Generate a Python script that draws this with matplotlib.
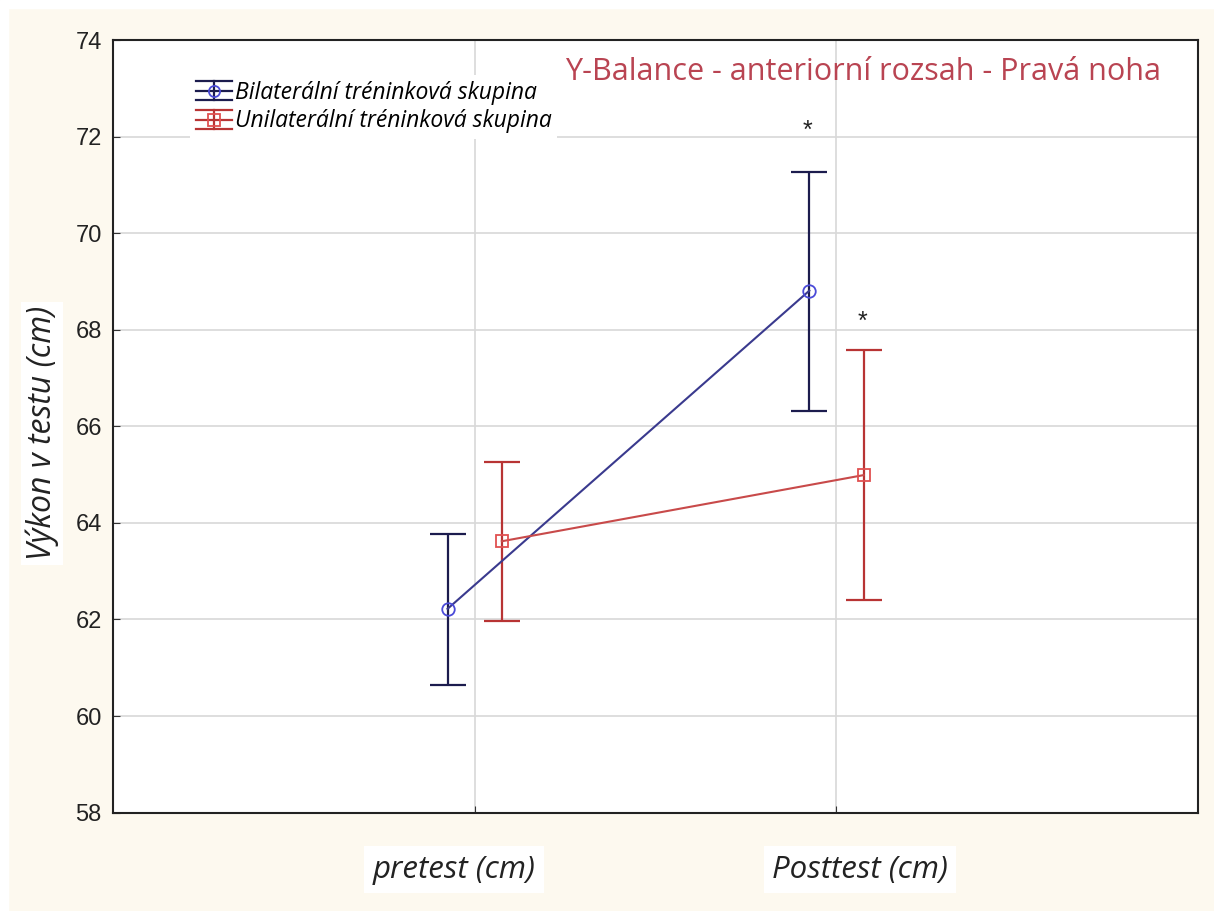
import matplotlib
matplotlib.use("Agg")
import matplotlib.pyplot as plt
from matplotlib.lines import Line2D
from matplotlib.legend_handler import HandlerBase
import numpy as np

# data
categories = ["pretest (cm)", "Posttest (cm)"]
series_names = ["Bilaterální tréninková skupina", "Unilaterální tréninková skupina"]
bilateral_mean = [62.22, 68.81]
bilateral_low = [60.64, 66.31]
bilateral_high = [63.78, 71.27]
unilateral_mean = [63.62, 64.99]
unilateral_low = [61.96, 62.41]
unilateral_high = [65.26, 67.59]
significant = [False, True]  # asterisk at posttest for both groups

title_text = "Y-Balance - anteriorní rozsah - Pravá noha"
ylabel_text = "Výkon v testu (cm)"


class ErrbarHandler(HandlerBase):
    # legend glyph: line with marker, vertical bar and two wide caps
    def create_artists(self, legend, orig, xdescent, ydescent, width, height,
                       fontsize, trans):
        col = orig.get_color()
        mcol = orig.get_markeredgecolor()
        cy = height / 2 - ydescent
        h = 0.42 * fontsize
        x0, x1 = -xdescent, width - xdescent
        xm = (x0 + x1) / 2
        arts = [
            Line2D([x0, x1], [cy, cy], color=col, lw=1.6),
            Line2D([x0, x1], [cy + h, cy + h], color=col, lw=1.6),
            Line2D([x0, x1], [cy - h, cy - h], color=col, lw=1.6),
            Line2D([xm, xm], [cy - h, cy + h], color=col, lw=1.6),
            Line2D([xm], [cy], marker=orig.get_marker(), ms=8, mfc="none",
                   mec=mcol, mew=1.3, ls="none"),
        ]
        for a in arts:
            a.set_transform(trans)
        return arts


fig = plt.figure(figsize=(12.14, 9.11), dpi=100)
fig.patch.set_facecolor("#fdf9ef")
# thin white border on top and left like the scanned picture
fig.add_artist(plt.Rectangle((0, 0), 0.007, 1, transform=fig.transFigure,
                             color="white", zorder=0))
fig.add_artist(plt.Rectangle((0, 0.991), 1, 0.009, transform=fig.transFigure,
                             color="white", zorder=0))

ax = fig.add_axes([0.093, 0.108, 0.894, 0.848])
ax.set_facecolor("white")

x = np.arange(1, len(categories) + 1)
offset = 0.075

groups = [
    (bilateral_mean, bilateral_low, bilateral_high, -offset, "#3a3a8e", "#1c1c4e", "#4a4ad8", "o", 29.5),
    (unilateral_mean, unilateral_low, unilateral_high, offset, "#c84a4a", "#b83434", "#e05050", "s", 20),
]

handles = []
for mean, low, high, dx, lcol, ecol, mcol, mk, star_pad in groups:
    mean = np.array(mean)
    yerr = [mean - np.array(low), np.array(high) - mean]
    xs = x + dx
    ax.errorbar(xs, mean, yerr=yerr, fmt="none", ecolor=ecol, elinewidth=1.6,
                capsize=13, capthick=1.6, zorder=2)
    ax.plot(xs, mean, color=lcol, lw=1.5, marker=mk, ms=9, mfc="none",
            mec=mcol, mew=1.3, zorder=3)
    for xi, hi, sig in zip(xs, high, significant):
        if sig:
            ax.annotate("*", (xi, hi), xytext=(-1, star_pad), textcoords="offset points",
                        ha="center", va="center", fontsize=18, color="#222222",
                        family="Liberation Sans")
    handles.append(Line2D([], [], color=ecol, marker=mk, mec=mcol))

leg = ax.legend(handles, series_names, loc="upper left", bbox_to_anchor=(0.071, 0.955),
                frameon=True, fancybox=False, edgecolor="none", framealpha=1,
                prop={"family": "Open Sans", "style": "italic", "size": 16.5},
                handler_map={Line2D: ErrbarHandler()},
                handlelength=1.6, handleheight=1.0, handletextpad=0.1,
                labelspacing=0.2, borderpad=0.25, borderaxespad=0)

ax.set_xlim(0, 3)
ax.set_ylim(58, 74)
ax.set_yticks(np.arange(58, 75, 2))
ax.set_xticks(x)
ax.set_xticklabels([])
label_shift = [-15, 17]  # shift in points of the category labels in the picture
for xi, cat, sh in zip(x, categories, label_shift):
    ax.annotate(cat, (xi, 0), xycoords=ax.get_xaxis_transform(),
                xytext=(sh, -41), textcoords="offset points", ha="center", va="center",
                fontsize=22.5, family="Open Sans", style="italic", color="#222222",
                bbox=dict(facecolor="white", edgecolor="none", pad=6))
for lab in ax.get_yticklabels():
    lab.set_fontsize(17)
    lab.set_family("Liberation Sans")
    lab.set_color("#222222")
ax.tick_params(axis="x", direction="in", length=5, color="#333333")
ax.tick_params(axis="y", direction="in", length=5, pad=8, color="#333333")
ax.grid(True, color="#d8d8d8", lw=1.2)
ax.set_axisbelow(True)
for sp in ax.spines.values():
    sp.set_linewidth(1.5)
    sp.set_color("#222222")

ax.set_ylabel(ylabel_text, fontsize=23, family="Open Sans", style="italic",
              color="#222222", labelpad=12,
              bbox=dict(facecolor="white", edgecolor="none", pad=3))
ax.yaxis.label.set_y(0.491)
ax.text(0.966, 0.9586, title_text, transform=ax.transAxes, ha="right", va="center",
        fontsize=22, family="Open Sans", color="#b94452")

fig.savefig("out.png", dpi=100, facecolor=fig.get_facecolor())
